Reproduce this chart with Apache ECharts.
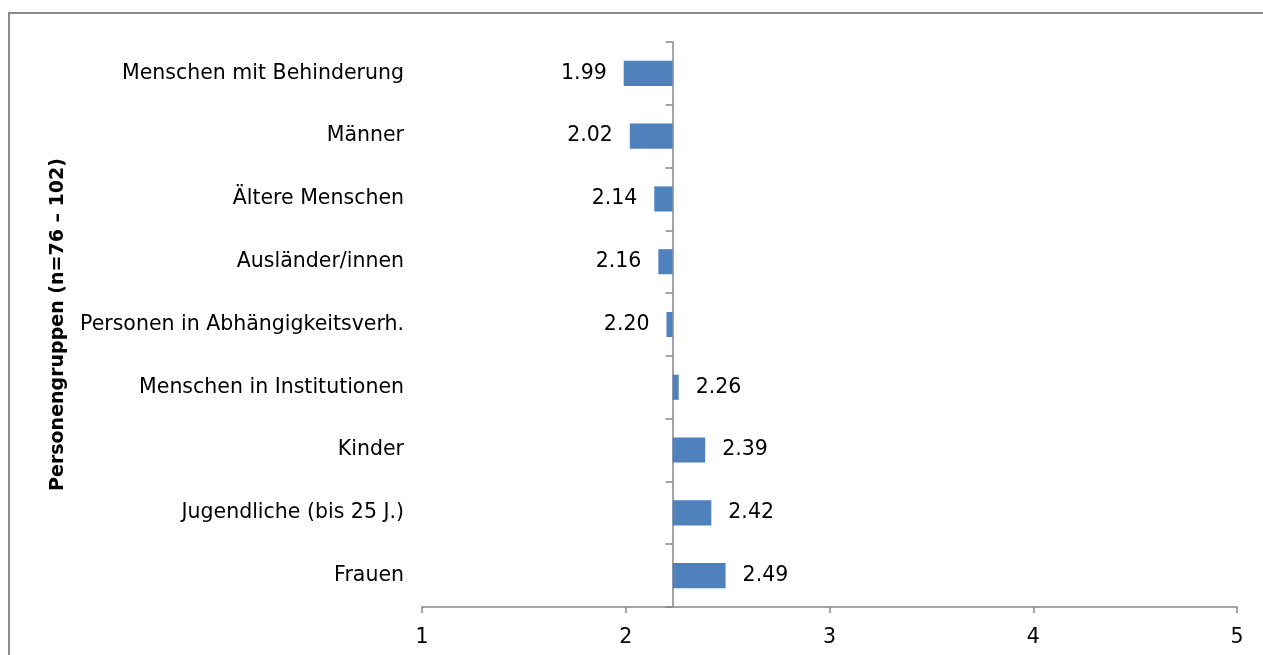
<!DOCTYPE html>
<html><head><meta charset="utf-8">
<script src="https://cdn.jsdelivr.net/npm/echarts@6/dist/echarts.min.js"></script>
<style>html,body{margin:0;padding:0;background:#fff}#c{width:1263px;height:655px}</style>
</head><body><div id="c"></div>
<script>
const categories = ["Menschen mit Behinderung","Männer","Ältere Menschen","Ausländer/innen","Personen in Abhängigkeitsverh.","Menschen in Institutionen","Kinder","Jugendliche (bis 25 J.)","Frauen"];
const values = [1.99, 2.02, 2.14, 2.16, 2.20, 2.26, 2.39, 2.42, 2.49];
const xTicks = [1, 2, 3, 4, 5];
const BASE = 2.23;
const FONT = "DejaVu Sans";
const FS = 20.5;

const chart = echarts.init(document.getElementById('c'));
const GRID = {left: 422, right: 26, top: 42, bottom: 48};
function build(offset){
  return {
    animation: false,
    graphic: [{type:'rect', shape:{x:9, y:13, width:1300, height:700}, style:{fill:'none', stroke:'#898989', lineWidth:2}, silent:true}],
    grid: GRID,
    xAxis: {type:'value', min:xTicks[0], max:xTicks[xTicks.length-1], interval:1,
      axisLine:{show:true, lineStyle:{color:'#878787', width:1.5}},
      axisTick:{show:true, inside:false, length:6, lineStyle:{color:'#878787', width:1.5}},
      axisLabel:{color:'#000', fontFamily:FONT, fontSize:FS, margin:20},
      splitLine:{show:false}},
    yAxis: [
      {type:'category', data:categories, inverse:true,
       name:'Personengruppen (n=76 – 102)', nameLocation:'middle', nameGap:354,
       nameTextStyle:{fontFamily:FONT, fontSize:19, fontWeight:'bold', color:'#000'},
       axisLine:{show:false}, axisTick:{show:false},
       axisLabel:{color:'#000', fontFamily:FONT, fontSize:FS, margin:18}},
      {type:'category', data:categories, inverse:true, position:'left', offset:offset,
       axisLine:{show:true, lineStyle:{color:'#878787', width:1.5}},
       axisTick:{show:true, length:7, lineStyle:{color:'#878787', width:1.5}},
       axisLabel:{show:false}}
    ],
    series: [{
      type:'custom', xAxisIndex:0, yAxisIndex:0,
      encode:{x:1, y:0},
      data: values.map((v,i)=>[i, v]),
      renderItem: function(params, api){
        const idx = api.value(0), v = api.value(1);
        const p0 = api.coord([BASE, idx]), p1 = api.coord([v, idx]);
        const h = api.size([0,1])[1]*0.4;
        const neg = v < BASE;
        return {type:'group', children:[
          {type:'rect', shape:{x:Math.min(p0[0],p1[0]), y:p0[1]-h/2, width:Math.abs(p1[0]-p0[0]), height:h},
           style:{fill:'#4f81bd'}},
          {type:'text', x: p1[0] + (neg ? -17 : 17), y: p0[1],
           style:{text: v.toFixed(2), align: neg ? 'right' : 'left', verticalAlign:'middle',
                  fontFamily:FONT, fontSize:FS, fill:'#000'}}
        ]};
      }
    }]
  };
}
chart.setOption(build(0));
const px = chart.convertToPixel({xAxisIndex:0}, BASE);
chart.setOption(build(-(px - GRID.left)));
</script></body></html>
